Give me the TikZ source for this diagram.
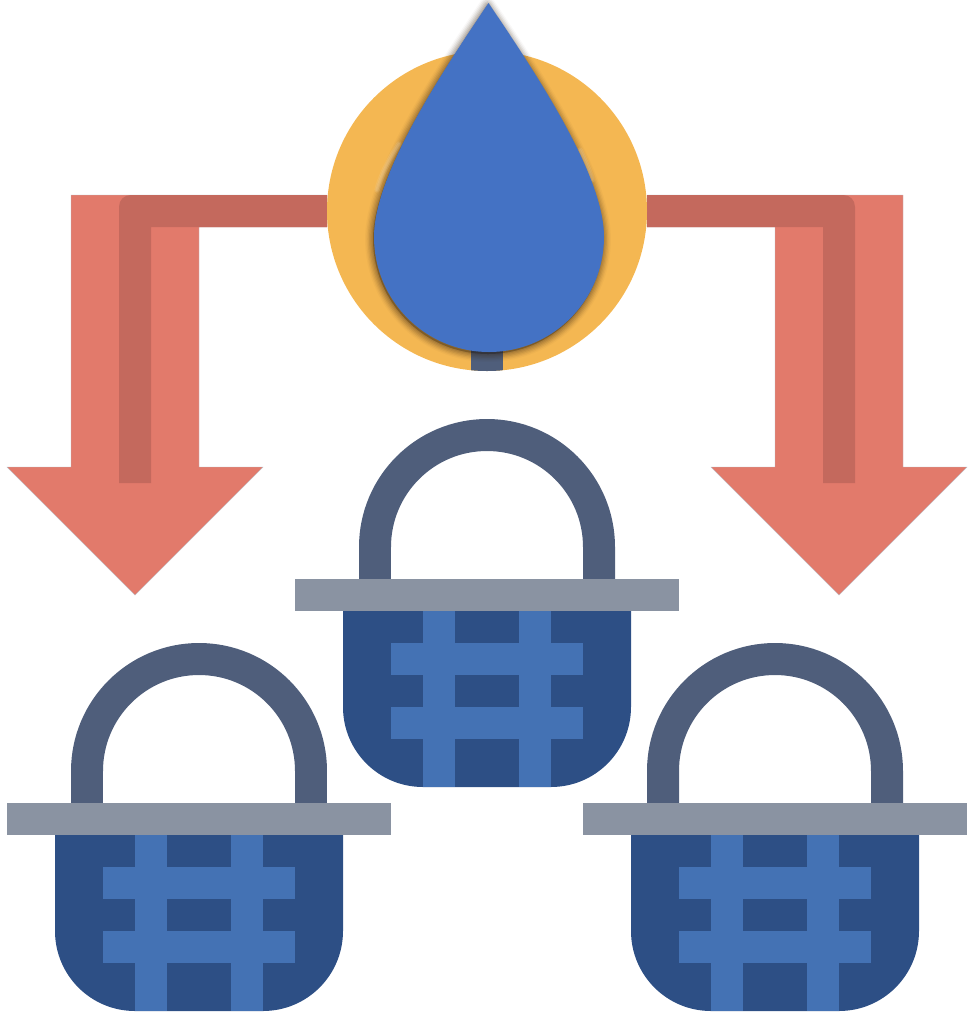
\documentclass[tikz,border=0pt]{standalone}
\definecolor{salmon}{HTML}{E27A6B}
\definecolor{salmondark}{HTML}{C4695D}
\definecolor{gold}{HTML}{F4B752}
\definecolor{dropblue}{HTML}{4472C4}
\definecolor{slatehandle}{HTML}{4F5E7B}
\definecolor{rimgrey}{HTML}{8A93A2}
\definecolor{basketblue}{HTML}{2D4F85}
\definecolor{weaveblue}{HTML}{4472B4}
\def\dropshape{(488.5,3) .. controls (440,75) and (374,175) .. (374,237) .. controls (374,300.5) and (425.5,352) .. (489,352) .. controls (552.5,352) and (604,300.5) .. (604,237) .. controls (604,175) and (537,75) .. (488.5,3) -- cycle}
\tikzset{
  x=0.02cm,y=-0.02cm,
  arrowbody/.style={fill=salmon,draw=rimgrey!60,line width=0.2pt,line join=miter},
  arrowstrip/.style={fill=salmondark},
  dropshadow/.style={draw=black!70!brown,fill=black,fill opacity=0.05,line join=round},
  halo/.style={draw=white,line cap=round,opacity=0.1},
  basket/.pic={
    \fill[basketblue] (343,600) -- (343,707) .. controls (343,751.2) and (378.8,787) .. (423,787) -- (551,787) .. controls (595.2,787) and (631,751.2) .. (631,707) -- (631,600) -- cycle;
    \fill[weaveblue] (423,611) rectangle (455,787);
    \fill[weaveblue] (519,611) rectangle (551,787);
    \fill[weaveblue] (391,643) rectangle (583,675);
    \fill[weaveblue] (391,707) rectangle (583,739);
    \draw[slatehandle,line width=0.64cm] (375,580) -- (375,547) arc[start angle=180,end angle=360,radius=112] -- (599,580);
    \fill[rimgrey] (295,579) rectangle (679,611);
  }
}
\begin{document}
\begin{tikzpicture}
\useasboundingbox (0,0) rectangle (968,1015);
% arrows
\path[arrowbody] (71,195) -- (327,195) -- (327,227) -- (199,227) -- (199,467) -- (263,467) -- (135,595) -- (7,467) -- (71,467) -- cycle;
\path[arrowstrip] (151,483) -- (119,483) -- (119,207) .. controls (119,200) and (124,195) .. (131,195) -- (327,195) -- (327,227) -- (151,227) -- cycle;
\path[arrowbody] (903,195) -- (647,195) -- (647,227) -- (775,227) -- (775,467) -- (711,467) -- (839,595) -- (967,467) -- (903,467) -- cycle;
\path[arrowstrip] (823,483) -- (855,483) -- (855,207) .. controls (855,200) and (850,195) .. (843,195) -- (647,195) -- (647,227) -- (823,227) -- cycle;
% circle, stem, drop
\fill[gold] (487,211) circle[radius=160];
\begin{scope}
\clip (487,211) circle[radius=160];
\fill[slatehandle] (471,340) rectangle (503,372);
\end{scope}
\begin{scope}[shift={(-1,2)}]
\path[dropshadow,line width=9pt,draw opacity=0.03] \dropshape;
\path[dropshadow,line width=7.5pt,draw opacity=0.05] \dropshape;
\path[dropshadow,line width=6pt,draw opacity=0.07] \dropshape;
\path[dropshadow,line width=4.5pt,draw opacity=0.09] \dropshape;
\path[dropshadow,line width=3pt,draw opacity=0.1] \dropshape;
\path[dropshadow,line width=1.5pt,draw opacity=0.12] \dropshape;
\end{scope}
\path[halo,line width=3pt] (377,190) .. controls (382,172) and (390,158) .. (399,144);
\path[halo,line width=1.5pt] (377,190) .. controls (382,172) and (390,158) .. (399,144);
\path[halo,line width=3pt] (592,180) .. controls (589,170) and (585,160) .. (580,150);
\path[halo,line width=1.5pt] (592,180) .. controls (589,170) and (585,160) .. (580,150);
\fill[dropblue] \dropshape;
% baskets
\pic (basketcentre) at (0,0) {basket};
\pic (basketleft) at (-288,224) {basket};
\pic (basketright) at (288,224) {basket};
\end{tikzpicture}
\end{document}
